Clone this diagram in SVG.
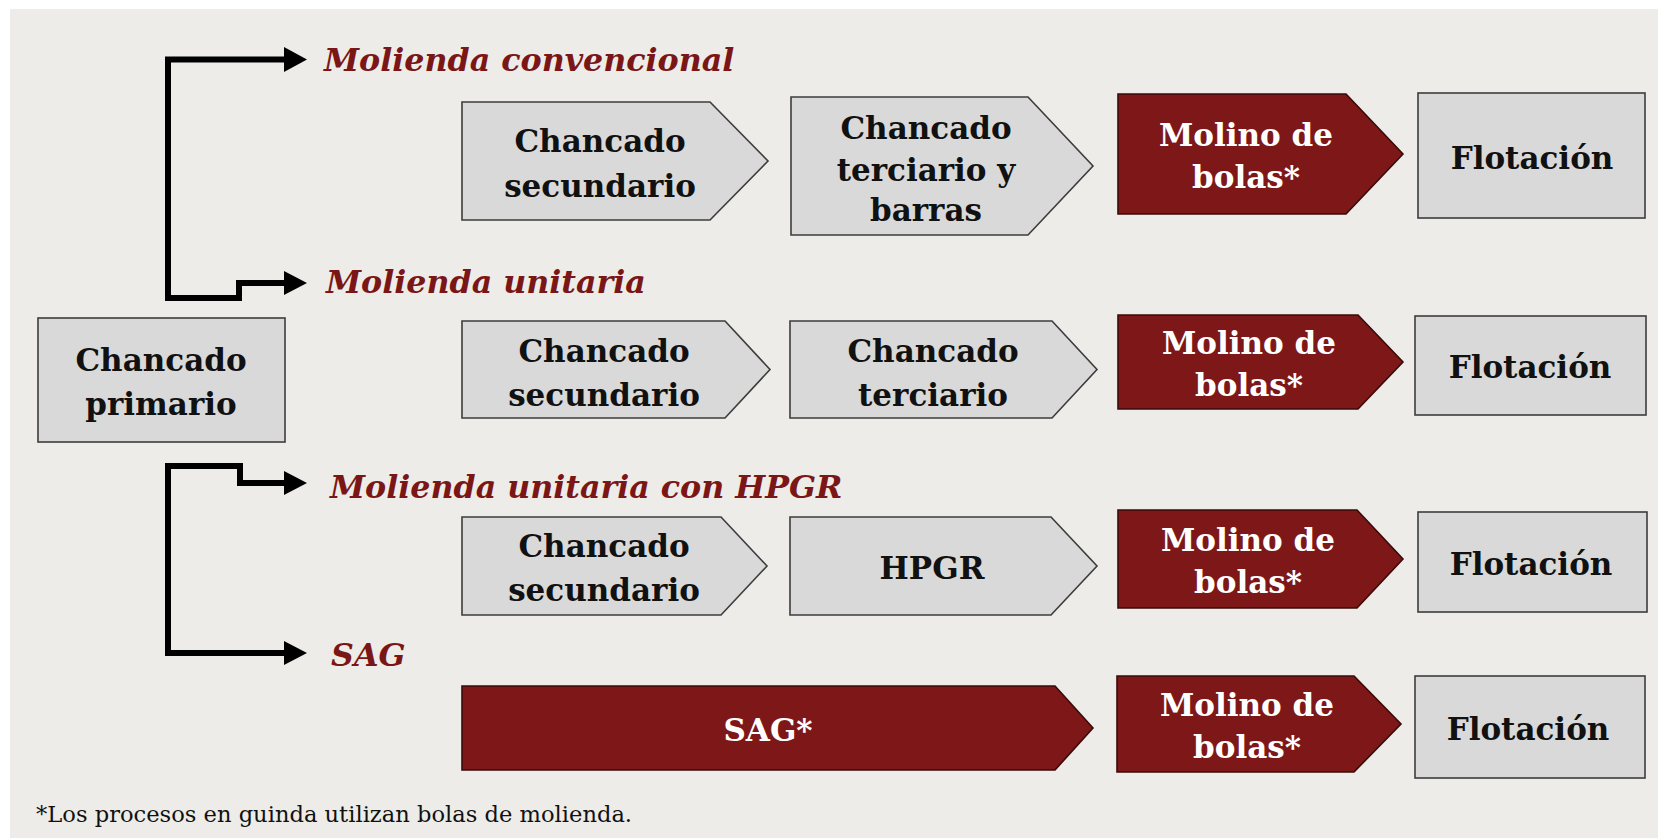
<svg xmlns="http://www.w3.org/2000/svg" width="1658" height="838" viewBox="0 0 1658 838">
<style>
.g{fill:#D9D9D9;stroke:#3C3C3C;stroke-width:1.6}
.r{fill:#7E1818;stroke:#3A0A0A;stroke-width:1.6}
.t{font-family:"DejaVu Serif","Liberation Serif",serif;font-weight:bold;font-size:31px;text-anchor:middle;fill:#111}
.w{fill:#FFFFFF}
.lab{font-family:"DejaVu Serif","Liberation Serif",serif;font-weight:bold;font-style:italic;font-size:31.7px;fill:#7B1616}
.foot{font-family:"DejaVu Serif","Liberation Serif",serif;font-size:22.6px;fill:#111}
.ln{fill:none;stroke:#000;stroke-width:6;stroke-linejoin:miter}
.ah{fill:#000}
</style>
<rect x="0" y="0" width="1658" height="838" fill="#FFFFFF"/>
<rect x="10" y="9" width="1648" height="829" fill="#EDECE8"/>

<g id="connectors">
<path class="ln" d="M286 59.5 H168 V298 H239 V283 H286"/>
<polygon class="ah" points="284,47 307,59.5 284,72"/>
<polygon class="ah" points="284,271 307,283 284,295"/>
<path class="ln" d="M286 483 H240 V466 H168 V653 H286"/>
<polygon class="ah" points="284,471 307,483 284,495"/>
<polygon class="ah" points="284,641 307,653 284,665"/>
</g>

<g id="labels">
<text class="lab" x="324" y="71">Molienda convencional</text>
<text class="lab" x="326" y="293">Molienda unitaria</text>
<text class="lab" x="330" y="498">Molienda unitaria con HPGR</text>
<text class="lab" x="331" y="666">SAG</text>
</g>

<g id="chancado-primario">
<rect class="g" x="38" y="318" width="247" height="124"/>
<text class="t" x="161" y="371">Chancado</text>
<text class="t" x="161" y="415">primario</text>
</g>

<g id="r1-secundario">
<polygon class="g" points="462,102 710,102 768,161 710,220 462,220"/>
<text class="t" x="600" y="152">Chancado</text>
<text class="t" x="600" y="197">secundario</text>
</g>
<g id="r1-terciario">
<polygon class="g" points="791,97 1028,97 1093,166 1028,235 791,235"/>
<text class="t" x="926" y="139">Chancado</text>
<text class="t" x="926" y="181">terciario y</text>
<text class="t" x="926" y="221">barras</text>
</g>
<g id="r1-molino">
<polygon class="r" points="1118,94 1346,94 1403,154 1346,214 1118,214"/>
<text class="t w" x="1246" y="146">Molino de</text>
<text class="t w" x="1246" y="188">bolas*</text>
</g>
<g id="r1-flotacion">
<rect class="g" x="1418" y="93" width="227" height="125"/>
<text class="t" x="1532" y="169">Flotación</text>
</g>

<g id="r2-secundario">
<polygon class="g" points="462,321 725,321 770,369.5 725,418 462,418"/>
<text class="t" x="604" y="362">Chancado</text>
<text class="t" x="604" y="406">secundario</text>
</g>
<g id="r2-terciario">
<polygon class="g" points="790,321 1052,321 1097,369.5 1052,418 790,418"/>
<text class="t" x="933" y="362">Chancado</text>
<text class="t" x="933" y="406">terciario</text>
</g>
<g id="r2-molino">
<polygon class="r" points="1118,315 1358,315 1403,362 1358,409 1118,409"/>
<text class="t w" x="1249" y="354">Molino de</text>
<text class="t w" x="1249" y="396">bolas*</text>
</g>
<g id="r2-flotacion">
<rect class="g" x="1415" y="316" width="231" height="99"/>
<text class="t" x="1530" y="378">Flotación</text>
</g>

<g id="r3-secundario">
<polygon class="g" points="462,517 721,517 767,566 721,615 462,615"/>
<text class="t" x="604" y="557">Chancado</text>
<text class="t" x="604" y="601">secundario</text>
</g>
<g id="r3-hpgr">
<polygon class="g" points="790,517 1051,517 1097,566 1051,615 790,615"/>
<text class="t" x="932" y="579">HPGR</text>
</g>
<g id="r3-molino">
<polygon class="r" points="1118,510 1357,510 1403,559 1357,608 1118,608"/>
<text class="t w" x="1248" y="551">Molino de</text>
<text class="t w" x="1248" y="593">bolas*</text>
</g>
<g id="r3-flotacion">
<rect class="g" x="1418" y="512" width="229" height="100"/>
<text class="t" x="1531" y="575">Flotación</text>
</g>

<g id="r4-sag">
<polygon class="r" points="462,686 1055,686 1093,728 1055,770 462,770"/>
<text class="t w" x="768" y="741">SAG*</text>
</g>
<g id="r4-molino">
<polygon class="r" points="1117,676 1354,676 1401,724 1354,772 1117,772"/>
<text class="t w" x="1247" y="716">Molino de</text>
<text class="t w" x="1247" y="758">bolas*</text>
</g>
<g id="r4-flotacion">
<rect class="g" x="1415" y="676" width="230" height="102"/>
<text class="t" x="1528" y="740">Flotación</text>
</g>

<text class="foot" x="36" y="822">*Los procesos en guinda utilizan bolas de molienda.</text>
</svg>
